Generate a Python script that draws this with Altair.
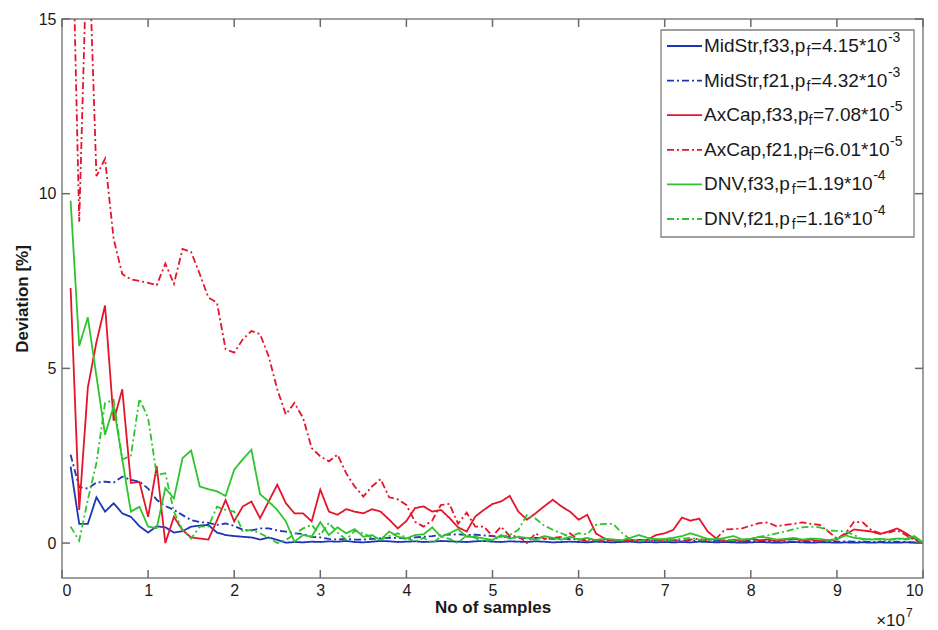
import altair as alt
import pandas as pd

# ---------------- data (x in units of 1e7 samples) ----------------
x_vals = [round(0.1 * i, 1) for i in range(1, 101)]

midstr_f33 = [2.19, 0.55, 0.55, 1.31, 0.90, 1.14, 0.85, 0.75, 0.48, 0.30,
              0.48, 0.45, 0.30, 0.34, 0.47, 0.50, 0.52, 0.30, 0.23, 0.20,
              0.18, 0.16, 0.10, 0.16, 0.09, 0.01, 0.03, 0.02, 0.04, 0.03,
              0.05, 0.04, 0.06, 0.03, 0.02, 0.04, 0.06, 0.05, 0.03, 0.04,
              0.05, 0.03, 0.04, 0.06, 0.05, 0.04, 0.03, 0.05, 0.06, 0.04,
              0.03, 0.05, 0.04, 0.03, 0.05, 0.04, 0.02, 0.03, 0.04, 0.03,
              0.02, 0.04, 0.03, 0.02, 0.03, 0.04, 0.02, 0.03, 0.02, 0.03,
              0.02, 0.03, 0.02, 0.04, 0.03, 0.02, 0.03, 0.02, 0.01, 0.02,
              0.03, 0.02, 0.01, 0.02, 0.03, 0.02, 0.01, 0.02, 0.02, 0.01,
              0.02, 0.01, 0.02, 0.01, 0.02, 0.01, 0.01, 0.02, 0.01, 0.00]

midstr_f21 = [2.53, 1.60, 1.56, 1.73, 1.76, 1.73, 1.90, 1.81, 1.76, 1.56,
              1.24, 1.06, 0.95, 0.80, 0.66, 0.60, 0.58, 0.52, 0.56, 0.49,
              0.38, 0.36, 0.42, 0.42, 0.36, 0.33, 0.28, 0.26, 0.18, 0.16,
              0.12, 0.10, 0.12, 0.10, 0.10, 0.12, 0.14, 0.15, 0.15, 0.13,
              0.16, 0.18, 0.20, 0.23, 0.24, 0.25, 0.23, 0.24, 0.22, 0.20,
              0.18, 0.17, 0.15, 0.14, 0.15, 0.13, 0.12, 0.13, 0.11, 0.10,
              0.10, 0.09, 0.10, 0.08, 0.09, 0.08, 0.09, 0.08, 0.07, 0.08,
              0.07, 0.08, 0.07, 0.06, 0.07, 0.06, 0.07, 0.06, 0.05, 0.06,
              0.05, 0.06, 0.05, 0.05, 0.04, 0.05, 0.04, 0.05, 0.04, 0.04,
              0.05, 0.04, 0.04, 0.03, 0.04, 0.03, 0.04, 0.03, 0.02, 0.00]

axcap_f33 = [7.30, 0.95, 4.45, 5.75, 6.80, 3.50, 4.40, 1.72, 1.75, 0.75,
             2.20, 0.00, 0.75, 0.37, 0.16, 0.13, 0.10, 0.65, 1.23, 0.62,
             1.05, 1.19, 0.71, 1.19, 1.67, 1.14, 0.85, 0.85, 0.62, 1.53,
             0.90, 0.81, 0.97, 0.90, 0.85, 0.97, 0.90, 0.67, 0.42, 0.63,
             1.00, 1.05, 0.90, 0.95, 0.72, 0.45, 0.33, 0.76, 0.95, 1.12,
             1.19, 1.35, 0.90, 0.67, 0.85, 1.05, 1.24, 1.05, 0.90, 0.67,
             0.81, 0.28, 0.13, 0.07, 0.05, 0.08, 0.05, 0.10, 0.23, 0.28,
             0.38, 0.73, 0.64, 0.70, 0.33, 0.13, 0.05, 0.10, 0.05, 0.12,
             0.08, 0.10, 0.05, 0.10, 0.12, 0.08, 0.10, 0.05, 0.08, 0.10,
             0.25, 0.39, 0.36, 0.33, 0.26, 0.33, 0.42, 0.28, 0.13, 0.00]

axcap_f21 = [20.0, 9.20, 18.0, 10.5, 11.0, 8.70, 7.70, 7.55, 7.50, 7.45,
             7.38, 8.00, 7.42, 8.42, 8.33, 7.70, 7.03, 6.88, 5.55, 5.45,
             5.83, 6.07, 5.98, 5.35, 4.40, 3.68, 4.01, 3.58, 2.72, 2.48,
             2.34, 2.53, 2.00, 1.62, 1.33, 1.62, 1.83, 1.31, 1.25, 1.09,
             0.61, 0.47, 0.65, 1.09, 1.12, 0.55, 0.87, 0.47, 0.47, 0.20,
             0.47, 0.20, 0.20, 0.00, 0.28, 0.12, 0.15, 0.18, 0.28, 0.10,
             0.05, 0.08, 0.05, 0.10, 0.05, 0.08, 0.10, 0.05, 0.10, 0.08,
             0.10, 0.05, 0.10, 0.12, 0.08, 0.13, 0.39, 0.40, 0.42, 0.50,
             0.57, 0.59, 0.48, 0.52, 0.55, 0.59, 0.55, 0.52, 0.33, 0.13,
             0.28, 0.61, 0.59, 0.37, 0.28, 0.30, 0.37, 0.23, 0.09, 0.00]

dnv_f33 = [9.80, 5.64, 6.46, 4.78, 3.10, 3.92, 2.39, 0.90, 1.04, 0.47,
           0.43, 1.57, 1.28, 2.43, 2.65, 1.62, 1.54, 1.48, 1.35, 2.10,
           2.40, 2.67, 1.40, 1.19, 0.95, 0.62, 0.04, 0.23, 0.18, 0.60,
           0.23, 0.45, 0.28, 0.40, 0.18, 0.23, 0.09, 0.33, 0.18, 0.13,
           0.23, 0.25, 0.45, 0.18, 0.28, 0.40, 0.18, 0.18, 0.13, 0.09,
           0.23, 0.13, 0.18, 0.15, 0.09, 0.20, 0.15, 0.10, 0.18, 0.10,
           0.15, 0.08, 0.13, 0.10, 0.08, 0.15, 0.23, 0.15, 0.10, 0.12,
           0.15, 0.20, 0.28, 0.20, 0.12, 0.10, 0.15, 0.20, 0.10, 0.12,
           0.18, 0.15, 0.10, 0.12, 0.15, 0.10, 0.13, 0.12, 0.08, 0.12,
           0.22, 0.15, 0.12, 0.10, 0.12, 0.10, 0.13, 0.12, 0.20, 0.02]

dnv_f21 = [0.47, 0.07, 1.24, 2.29, 4.01, 4.10, 2.39, 2.50, 4.13, 3.58,
           1.95, 2.00, 0.90, 0.37, 0.13, 0.47, 0.47, 1.04, 0.95, 0.90,
           0.33, 0.38, 0.28, 0.15, 0.00, 0.09, 0.25, 0.42, 0.52, 0.23,
           0.58, 0.30, 0.10, 0.35, 0.28, 0.15, 0.09, 0.20, 0.28, 0.15,
           0.04, 0.15, 0.00, 0.18, 0.12, 0.00, 0.23, 0.15, 0.04, 0.09,
           0.18, 0.23, 0.38, 0.80, 0.70, 0.50, 0.38, 0.28, 0.18, 0.28,
           0.25, 0.52, 0.55, 0.55, 0.30, 0.10, 0.05, 0.10, 0.12, 0.08,
           0.10, 0.12, 0.15, 0.10, 0.08, 0.12, 0.10, 0.08, 0.10, 0.12,
           0.18, 0.22, 0.28, 0.33, 0.40, 0.45, 0.47, 0.45, 0.36, 0.35,
           0.33, 0.23, 0.10, 0.12, 0.10, 0.08, 0.12, 0.10, 0.15, 0.00]

x_ticks = list(range(0, 11))
y_ticks = [0, 5, 10, 15]

# legend texts: (prefix, subscript, middle, superscript)
legend_rows = [
    ("MidStr,f33,p", "f", "=4.15*10", "-3"),
    ("MidStr,f21,p", "f", "=4.32*10", "-3"),
    ("AxCap,f33,p", "f", "=7.08*10", "-5"),
    ("AxCap,f21,p", "f", "=6.01*10", "-5"),
    ("DNV,f33,p", "f", "=1.19*10", "-4"),
    ("DNV,f21,p", "f", "=1.16*10", "-4"),
]

# ---------------- styling ----------------
BLUE = "#1d34b8"
RED = "#e5142b"
GREEN = "#2ec42e"
SOLID = [1, 0]
DASHDOT = [7, 3, 2, 3]
series_styles = [
    (midstr_f33, BLUE, SOLID),
    (midstr_f21, BLUE, DASHDOT),
    (axcap_f33, RED, SOLID),
    (axcap_f21, RED, DASHDOT),
    (dnv_f33, GREEN, SOLID),
    (dnv_f21, GREEN, DASHDOT),
]

FONT = "Liberation Sans, Arial, Helvetica, sans-serif"
FRAME = "#808080"
TICKC = "#6a6a6a"
TXT = "#1a1a1a"
W, H = 861, 559
TICK = 8

xs = alt.Scale(domain=[0, 10], nice=False, zero=False)
ys = alt.Scale(domain=[-1, 15], nice=False, zero=False)

x_axis = alt.Axis(orient="bottom", values=x_ticks, ticks=False, grid=False, domain=False,
                  labelFontSize=16, labelPadding=4, labelColor=TXT, labelFont=FONT,
                  title="No of samples", titleFontSize=17, titleFontWeight="bold",
                  titlePadding=1, titleColor=TXT, titleFont=FONT, format="d")
y_axis = alt.Axis(orient="left", values=y_ticks, ticks=False, grid=False, domain=False,
                  labelFontSize=16, labelPadding=6, labelColor=TXT, labelFont=FONT,
                  title="Deviation [%]", titleFontSize=17, titleFontWeight="bold",
                  titlePadding=7, titleColor=TXT, titleFont=FONT)

layers = []
for k, (vals, color, dash) in enumerate(series_styles):
    df = pd.DataFrame({"x": x_vals, "y": vals})
    layers.append(
        alt.Chart(df).mark_line(color=color, strokeDash=dash, strokeWidth=1.8, clip=True)
        .encode(x=alt.X("x:Q", scale=xs, axis=x_axis), y=alt.Y("y:Q", scale=ys, axis=y_axis))
    )

# inward tick marks on all four sides: short segments (x == x2 or y == y2) at the tick values
tick_x = pd.DataFrame({"x": x_ticks})
tick_y = pd.DataFrame({"y": y_ticks})
for ya, yb in [(H, H - TICK), (0, TICK)]:
    layers.append(
        alt.Chart(tick_x).mark_rule(color=TICKC, strokeWidth=1.5)
        .encode(x=alt.X("x:Q", scale=xs, axis=x_axis), x2=alt.X2("x"),
                y=alt.value(ya), y2=alt.value(yb))
    )
for xa, xb in [(0, TICK), (W, W - TICK)]:
    layers.append(
        alt.Chart(tick_y).mark_rule(color=TICKC, strokeWidth=1.5)
        .encode(y=alt.Y("y:Q", scale=ys, axis=y_axis), y2=alt.Y2("y"),
                x=alt.value(xa), x2=alt.value(xb))
    )

# x10^7 exponent label
corner = pd.DataFrame({"x": [10], "y": [-1]})
layers.append(
    alt.Chart(corner).mark_text(text="\u00d710", align="right", baseline="middle", dx=-18, dy=43,
                                fontSize=17, font=FONT, color=TXT)
    .encode(x=alt.X("x:Q", scale=xs, axis=x_axis), y=alt.Y("y:Q", scale=ys, axis=y_axis))
)
layers.append(
    alt.Chart(corner).mark_text(text="7", align="left", baseline="middle", dx=-17, dy=35,
                                fontSize=12, font=FONT, color=TXT)
    .encode(x=alt.X("x:Q", scale=xs, axis=x_axis), y=alt.Y("y:Q", scale=ys, axis=y_axis))
)

# ---------------- legend (custom, for sub/superscripts) ----------------
AW = {'M': 833, 'i': 222, 'd': 556, 'S': 667, 't': 278, 'r': 333, ',': 278, 'f': 278,
      'p': 556, '=': 584, '.': 278, '*': 389, '-': 333, 'A': 667, 'x': 500, 'C': 722,
      'a': 556, 'D': 722, 'N': 722, 'V': 667}


def tw(s, fs):
    return sum(AW.get(c, 556) for c in s) * fs / 1000.0


FS, FSS = 19, 14
one = pd.DataFrame({"a": [0]})
layers.append(
    alt.Chart(one).mark_rect(fill="white", stroke=FRAME, strokeWidth=1.3)
    .encode(x=alt.value(599), x2=alt.value(852), y=alt.value(11), y2=alt.value(218))
)
row_y0, row_dy = 27.0, 34.6
for i, ((pre, sub, mid, sup), (_, color, dash)) in enumerate(zip(legend_rows, series_styles)):
    yy = row_y0 + row_dy * i
    layers.append(
        alt.Chart(one).mark_rule(color=color, strokeDash=dash, strokeWidth=1.8)
        .encode(x=alt.value(605), x2=alt.value(640), y=alt.value(yy))
    )
    x0 = 642.0
    x1 = x0 + tw(pre, FS)
    x2 = x1 + tw(sub, FSS) + 0.5
    x3 = x2 + tw(mid, FS) + 0.5
    for xx, dyy, txt, fs in [(x0, 0, pre, FS), (x1, 6, sub, FSS), (x2, 0, mid, FS), (x3, -8, sup, FSS)]:
        layers.append(
            alt.Chart(one).mark_text(text=txt, align="left", baseline="middle",
                                     fontSize=fs, font=FONT, color=TXT)
            .encode(x=alt.value(xx), y=alt.value(yy + dyy))
        )

chart = alt.layer(*layers).properties(
    width=W, height=H,
    autosize=alt.AutoSizeParams(type="none"),
    padding={"left": 62, "top": 19, "right": 15, "bottom": 52},
    background="white",
).configure_view(stroke=FRAME, strokeWidth=1.5)

chart.save("out.html", embed_options={"renderer": "svg", "actions": False})
